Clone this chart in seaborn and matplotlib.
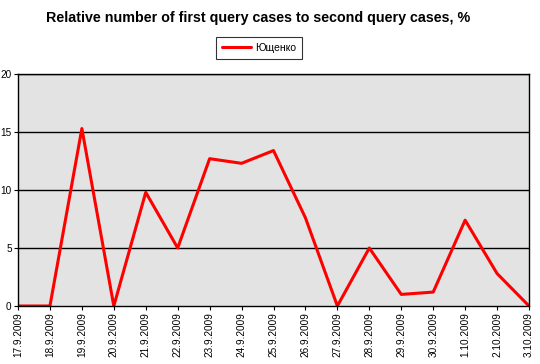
import matplotlib
matplotlib.use("Agg")
import matplotlib.pyplot as plt
import seaborn as sns
import pandas as pd

dates = ["17.9.2009", "18.9.2009", "19.9.2009", "20.9.2009", "21.9.2009",
         "22.9.2009", "23.9.2009", "24.9.2009", "25.9.2009", "26.9.2009",
         "27.9.2009", "28.9.2009", "29.9.2009", "30.9.2009", "1.10.2009",
         "2.10.2009", "3.10.2009"]
values = [0, 0, 15.3, 0, 9.8, 5.0, 12.7, 12.3, 13.4, 7.6,
          0, 5.0, 1.0, 1.2, 7.4, 2.8, 0]
series_name = "Ющенко"
title = "Relative number of first query cases to second query cases, %"
y_ticks = [0, 5, 10, 15, 20]

sns.set_style("white")
plt.rcParams['font.family'] = ['Liberation Sans', 'DejaVu Sans']
plt.rcParams['text.color'] = 'black'
plt.rcParams['xtick.color'] = 'black'
plt.rcParams['ytick.color'] = 'black'

df = pd.DataFrame({"date": dates, "value": values, "series": series_name})

fig = plt.figure(figsize=(5.4, 3.64), dpi=100)
ax = fig.add_axes([18/540, 1-306/364, (529-18)/540, (306-74)/364])
ax.set_facecolor("#e3e3e3")

sns.lineplot(data=df, x="date", y="value", hue="series", sort=False,
             palette=["#ff0000"], linewidth=2.2, ax=ax)

ax.set_xlim(0, len(dates) - 1)
ax.set_ylim(0, 20)
ax.set_yticks(y_ticks)
ax.set_yticklabels([str(v) for v in y_ticks], fontsize=7.2)
ax.set_xticks(range(len(dates)))
ax.set_xticklabels(dates, rotation=90, fontsize=7.2)
ax.set_xlabel("")
ax.set_ylabel("")
for y in y_ticks[1:]:
    ax.axhline(y, color="black", linewidth=1.0, zorder=1)
for s in ax.spines.values():
    s.set_color("black")
    s.set_linewidth(1.0)
ax.tick_params(axis="both", direction="out", length=3, width=0.8, color="black",
               pad=1.5, bottom=True, left=True)

leg = ax.legend(loc="center", bbox_to_anchor=(259/540, 1-48/364),
                bbox_transform=fig.transFigure, fontsize=7.5, frameon=True,
                fancybox=False, handlelength=2.8, borderpad=0.6,
                handletextpad=0.4)
leg.get_frame().set_edgecolor("black")
leg.get_frame().set_linewidth(0.8)

fig.text(258/540, 1-18/364, title, ha="center", va="center",
         fontsize=10.3, fontweight="bold", color="black")

fig.savefig("out.png", dpi=100)
